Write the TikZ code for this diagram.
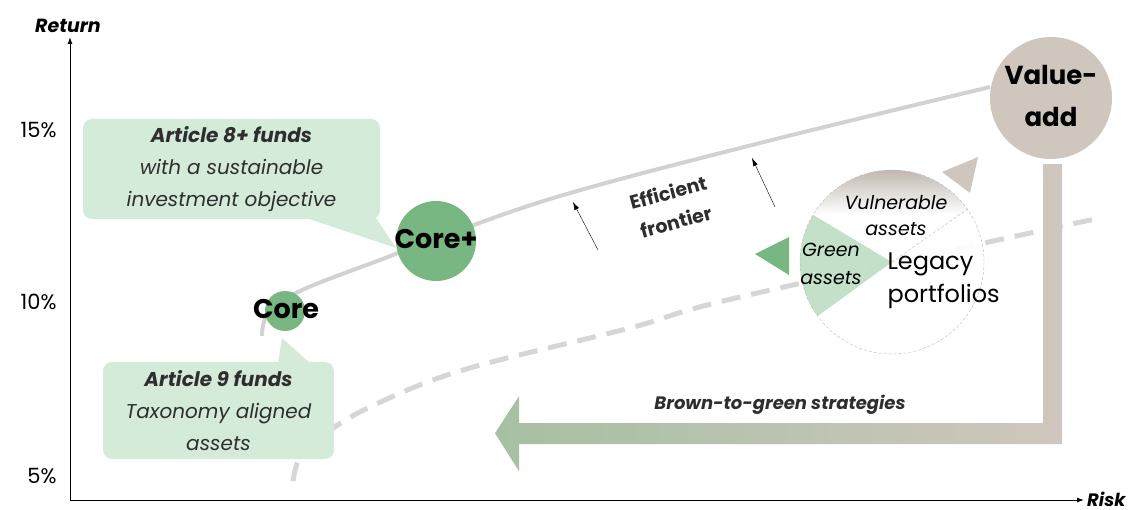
\documentclass[tikz,border=0pt]{standalone}
\usepackage{fontspec}
\setmainfont{Poppins}
\usetikzlibrary{arrows.meta}

\definecolor{fundgreen}{HTML}{78B682}
\definecolor{boxgreen}{HTML}{D5EBDA}
\definecolor{sectgreen}{HTML}{B9DCC0}
\definecolor{taupe}{HTML}{CFC6BE}
\definecolor{vulngray}{HTML}{BDB4AC}
\definecolor{arrowgreen}{HTML}{A7C0A2}
\definecolor{frontgray}{HTML}{D2D2D2}
\definecolor{dashgray}{HTML}{D6D6D6}
\definecolor{txtgray}{HTML}{2E2E2E}

\begin{document}
\begin{tikzpicture}[x=1pt,y=-1pt,
  axis/.style={line width=1pt,-{Latex[length=7pt,width=5pt]}},
  axislabel/.style={font=\fontsize{19}{20}\selectfont\bfseries\itshape},
  ticklabel/.style={anchor=east,font=\fontsize{21}{22}\selectfont},
  frontier/.style={line width=4pt,frontgray},
  lowline/.style={line width=5pt,dashgray,dash pattern=on 19pt off 11pt},
  fundnode/.style={circle,fill=#1,inner sep=0pt},
  fundlabel/.style={font=\fontsize{27}{40}\selectfont\bfseries,align=center},
  infobox/.style={fill=boxgreen,rounded corners=9pt,align=center,text=txtgray,
    font=\fontsize{20}{32}\selectfont\itshape},
  legacyedge/.style={draw=gray!55,thin,dash pattern=on 3pt off 2pt},
  smallarrow/.style={thin,-{Latex[length=8pt,width=5pt]}}]
\useasboundingbox (0,0) rectangle (1135,510);

% axes
\coordinate (orig) at (70,500);
\coordinate (ytop) at (70,37);
\coordinate (xend) at (1084,500);
\draw[axis] (orig) -- (ytop);
\draw[axis] (orig) -- (xend);
\node[axislabel] (ret) at (68,26) {Return};
\node[axislabel,font=\fontsize{18}{20}\selectfont\bfseries\itshape,anchor=west,inner sep=0pt] (risk) at (1087,499) {Risk};
\node[ticklabel] (t15) at (60,130) {15\%};
\node[ticklabel] (t10) at (60,302) {10\%};
\node[ticklabel] (t5) at (60,476) {5\%};

% dashed lower curve
\draw[lowline] plot[smooth,tension=0.6] coordinates {(293,481) (300,457) (322,436) (370,407) (463,370) (630,328) (740,297) (1095,219)};

% efficient frontier
\draw[frontier] plot[smooth,tension=0.6] coordinates {(262,336) (268,314) (300,291) (380,260) (436,239) (560,196) (760,143) (990,87)};

% legacy portfolios
\coordinate (lp) at (892,262);
\fill[white,opacity=0.92] (lp) circle[radius=92];
\fill[sectgreen,opacity=0.85] (lp) -- ++(-149:92) arc[start angle=-149,end angle=-216,radius=92] -- cycle;
\shade[top color=vulngray,bottom color=white,middle color=white] (lp) -- ++(-35:92) arc[start angle=-35,end angle=-149,radius=92] -- cycle;
\draw[legacyedge] (lp) circle[radius=92];
\draw[legacyedge] (lp) -- ++(-35:92);
\node[font=\fontsize{19}{26}\selectfont\itshape,align=center] (vuln) at (896,216) {Vulnerable\\assets};
\node[font=\fontsize{19}{28}\selectfont\itshape,align=center] (green) at (831,264) {Green\\assets};
\node[font=\fontsize{24}{33}\selectfont,align=left,anchor=west] (legacy) at (884,281) {Legacy\\portfolios};
\fill[fundgreen] (755,254) -- (789,237) -- (789,275) -- cycle;
\fill[taupe] (942,172) -- (978,157) -- (970,193) -- cycle;

% fund circles
\node[fundnode=fundgreen,minimum size=40pt] (core) at (285,311) {};
\node[fundlabel] (coretxt) at (286,309) {Core};
\node[fundnode=fundgreen,minimum size=80pt] (coreplus) at (436,241) {};
\node[fundlabel] (coreplustxt) at (436,239) {Core+};
\node[fundnode=taupe,minimum size=122pt] (va) at (1051,98) {};
\node[fundlabel,font=\fontsize{26}{42}\selectfont\bfseries] (vatxt) at (1051,96) {Value-\\add};

% callouts
\node[infobox,minimum width=297pt,minimum height=100pt] (art8) at (231.5,169) {\textbf{Article 8+ funds}\\with a sustainable\\investment objective};
\fill[boxgreen] (306,218) -- (376,218) -- (396,248) -- cycle;
\node[infobox,minimum width=231pt,minimum height=97pt] (art9) at (218.5,410.5) {\textbf{Article 9 funds}\\Taxonomy aligned\\assets};
\fill[boxgreen] (278,363) -- (282,338) -- (310,363) -- cycle;

% efficient frontier label and arrows
\node[font=\fontsize{19}{30}\selectfont\bfseries,rotate=15,align=center,text=txtgray] (eff) at (672,207) {Efficient\\frontier};
\coordinate (a1s) at (598,250);
\coordinate (a1e) at (573,202);
\coordinate (a2s) at (775,207);
\coordinate (a2e) at (752,158);
\draw[smallarrow] (a1s) -- (a1e);
\draw[smallarrow] (a2s) -- (a2e);

% brown-to-green arrow
\shade[left color=arrowgreen,right color=taupe] ([shift={(-8,5)}]va.south) -- ++(19,0) -- ++(0,280) -- ++(-543,0) -- ++(0,27) -- ++(-24,-38) -- ++(24,-37) -- ++(0,27) -- ++(524,0) -- cycle;
\node[font=\fontsize{18}{20}\selectfont\bfseries\itshape,text=txtgray] (b2g) at (780,405) {Brown-to-green strategies};
\end{tikzpicture}
\end{document}
